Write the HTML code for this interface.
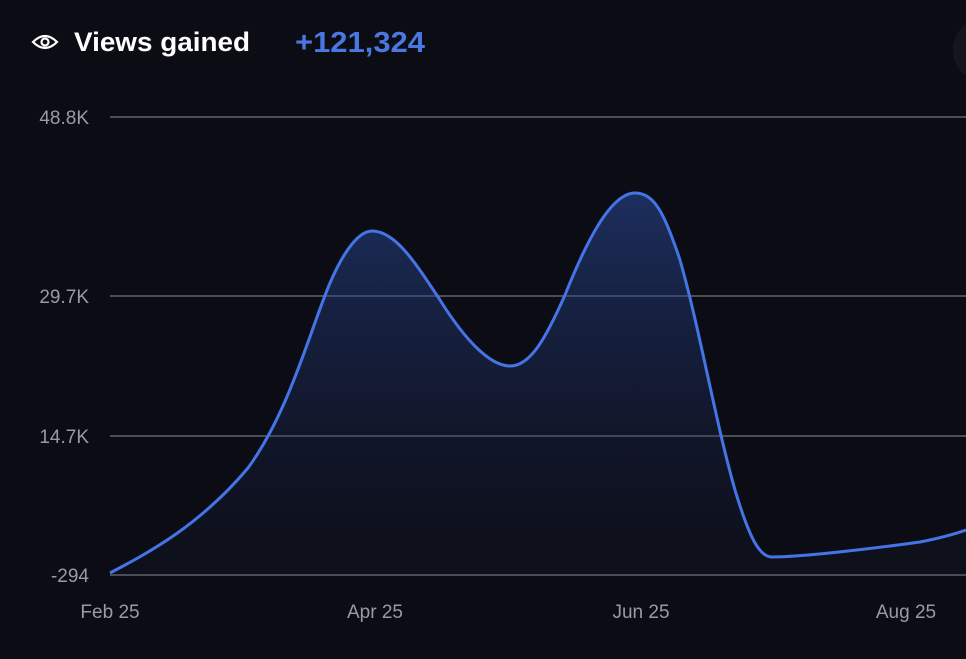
<!DOCTYPE html>
<html><head><style>
body{margin:0;background:#0c0d14;width:966px;height:654px;overflow:hidden;font-family:"Liberation Sans",sans-serif;}
</style></head><body>
<svg width="966" height="654" viewBox="0 0 966 654" xmlns="http://www.w3.org/2000/svg">
<defs><linearGradient id="g" x1="0" y1="0" x2="0" y2="1">
<stop offset="0" stop-color="#2a4a9a" stop-opacity="0.55"/>
<stop offset="1" stop-color="#1a2450" stop-opacity="0.08"/></linearGradient></defs>
<rect width="966" height="654" fill="#0c0d14"/>
<circle cx="985" cy="50" r="32" fill="#15161d"/>
<g fill="none" stroke="#fff" stroke-width="2.2">
<path d="M33 42 Q45 30 57 42 Q45 54 33 42Z"/><circle cx="45" cy="42" r="3.5"/></g>
<text x="74" y="51" fill="#fff" font-size="27" font-weight="bold" textLength="176" lengthAdjust="spacingAndGlyphs" style="font-weight:600">Views gained</text>
<text x="295" y="52" fill="#4a78e0" font-size="29" textLength="130" lengthAdjust="spacingAndGlyphs" style="font-weight:600">+121,324</text>
<g stroke="#74757b" stroke-width="1.3">
<line x1="110" y1="117" x2="966" y2="117"/><line x1="110" y1="296" x2="966" y2="296"/>
<line x1="110" y1="436" x2="966" y2="436"/><line x1="110" y1="575" x2="966" y2="575"/></g>
<g fill="#9a9ba2" font-size="19" text-anchor="end">
<text x="89" y="124">48.8K</text><text x="89" y="303">29.7K</text>
<text x="89" y="443">14.7K</text><text x="89" y="582">-294</text></g>
<g fill="#9a9ba2" font-size="19" text-anchor="middle">
<text x="110" y="618">Feb 25</text><text x="375" y="618">Apr 25</text>
<text x="641" y="618">Jun 25</text><text x="906" y="618">Aug 25</text></g>
<path d="M110 573 C150 552 200 525 248 468 C290 410 310 330 330 283 C345 248 360 231 372 231 C395 231 415 262 440 300 C465 340 490 366 510 366 C530 366 545 340 565 295 C585 245 610 193 635 193 C655 193 665 215 680 260 C700 330 715 420 735 490 C750 540 760 557 772 557 C800 557 870 549 920 542 C940 538 955 534 966 530 L966 575 L110 575Z" fill="url(#g)"/>
<path d="M110 573 C150 552 200 525 248 468 C290 410 310 330 330 283 C345 248 360 231 372 231 C395 231 415 262 440 300 C465 340 490 366 510 366 C530 366 545 340 565 295 C585 245 610 193 635 193 C655 193 665 215 680 260 C700 330 715 420 735 490 C750 540 760 557 772 557 C800 557 870 549 920 542 C940 538 955 534 966 530" fill="none" stroke="#4474e6" stroke-width="3"/>
</svg>
</body></html>
